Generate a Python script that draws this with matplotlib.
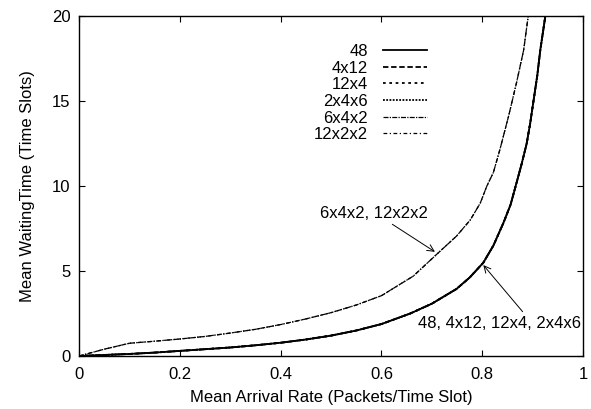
import matplotlib
matplotlib.use("Agg")
import matplotlib.pyplot as plt

plt.rcParams["font.family"] = ["Liberation Sans", "DejaVu Sans"]
_fontsize = 12

# arrival rate (packets / time slot)
rate_lo = [0.0, 0.05, 0.1, 0.15, 0.2, 0.25, 0.3, 0.35, 0.4, 0.45, 0.5, 0.55,
           0.6, 0.657, 0.7, 0.749, 0.775, 0.802, 0.822, 0.842, 0.856, 0.868,
           0.878, 0.888, 0.895, 0.902, 0.909, 0.915, 0.925]
# mean waiting time: 48, 4x12, 12x4, 2x4x6 (curves coincide)
wait_lo = [0.0, 0.06, 0.12, 0.2, 0.3, 0.4, 0.5, 0.63, 0.78, 0.97, 1.2, 1.5,
           1.88, 2.5, 3.08, 3.95, 4.62, 5.49, 6.5, 7.84, 8.9, 10.2,
           11.3, 12.5, 13.7, 15.1, 16.5, 18.0, 20.0]

rate_hi = [0.0, 0.05, 0.1, 0.15, 0.2, 0.25, 0.3, 0.35, 0.4, 0.45, 0.5, 0.55,
           0.6, 0.663, 0.713, 0.749, 0.776, 0.796, 0.809, 0.822, 0.835, 0.852,
           0.868, 0.882, 0.891]
# mean waiting time: 6x4x2, 12x2x2 (curves coincide)
wait_hi = [0.0, 0.4, 0.75, 0.87, 1.0, 1.15, 1.35, 1.57, 1.85, 2.18, 2.55, 3.0,
           3.55, 4.7, 6.08, 7.06, 8.0, 9.0, 10.0, 10.8, 12.16, 14.1,
           16.1, 18.0, 20.0]

labels = ["48", "4x12", "12x4", "2x4x6", "6x4x2", "12x2x2"]
styles = ["-", (0, (3, 1.5)), (0, (1.5, 2)), (0, (1, 0.8)),
          (0, (4, 1, 1, 1)), (0, (3, 2, 1, 2))]

fig = plt.figure(figsize=(5.91, 4.09), dpi=100)
ax = fig.add_axes([0.1337, 0.1296, 0.853, 0.831])

for i, (lab, ls) in enumerate(zip(labels, styles)):
    if i < 4:
        ax.plot(rate_lo, wait_lo, color="black", lw=1.3, ls=ls, label=lab)
    else:
        ax.plot(rate_hi, wait_hi, color="black", lw=0.9, ls=ls, label=lab)

ax.set_xlim(0, 1)
ax.set_ylim(0, 20)
ax.set_xticks([0, 0.2, 0.4, 0.6, 0.8, 1])
ax.set_xticklabels(["0", "0.2", "0.4", "0.6", "0.8", "1"])
ax.set_yticks([0, 5, 10, 15, 20])
ax.tick_params(direction="in", top=True, right=True, length=4,
               labelsize=_fontsize, width=0.8)
ax.tick_params(axis="x", pad=8)
ax.tick_params(axis="y", pad=6)
for s in ax.spines.values():
    s.set_linewidth(1.0)

ax.set_xlabel("Mean Arrival Rate (Packets/Time Slot)", fontsize=_fontsize,
              labelpad=6)
ax.set_ylabel("Mean WaitingTime (Time Slots)", fontsize=_fontsize,
              labelpad=12)

ax.annotate("6x4x2, 12x2x2", xy=(0.706, 6.13), xytext=(0.478, 8.4),
            fontsize=_fontsize, va="center", ha="left",
            arrowprops=dict(arrowstyle="->", color="black", lw=0.7,
                            shrinkA=1, shrinkB=0, relpos=(0.62, 0.0)))
ax.annotate("48, 4x12, 12x4, 2x4x6", xy=(0.802, 5.35), xytext=(0.673, 1.94),
            fontsize=_fontsize, va="center", ha="left",
            arrowprops=dict(arrowstyle="->", color="black", lw=0.7,
                            shrinkA=1, shrinkB=0, relpos=(0.66, 1.0)))

ax.legend(loc="upper right", bbox_to_anchor=(0.69, 0.918), frameon=False,
          markerfirst=False, fontsize=_fontsize, handlelength=2.64,
          handletextpad=0.9, labelspacing=0.1, borderpad=0,
          borderaxespad=0)

fig.savefig("out.png", dpi=100)
